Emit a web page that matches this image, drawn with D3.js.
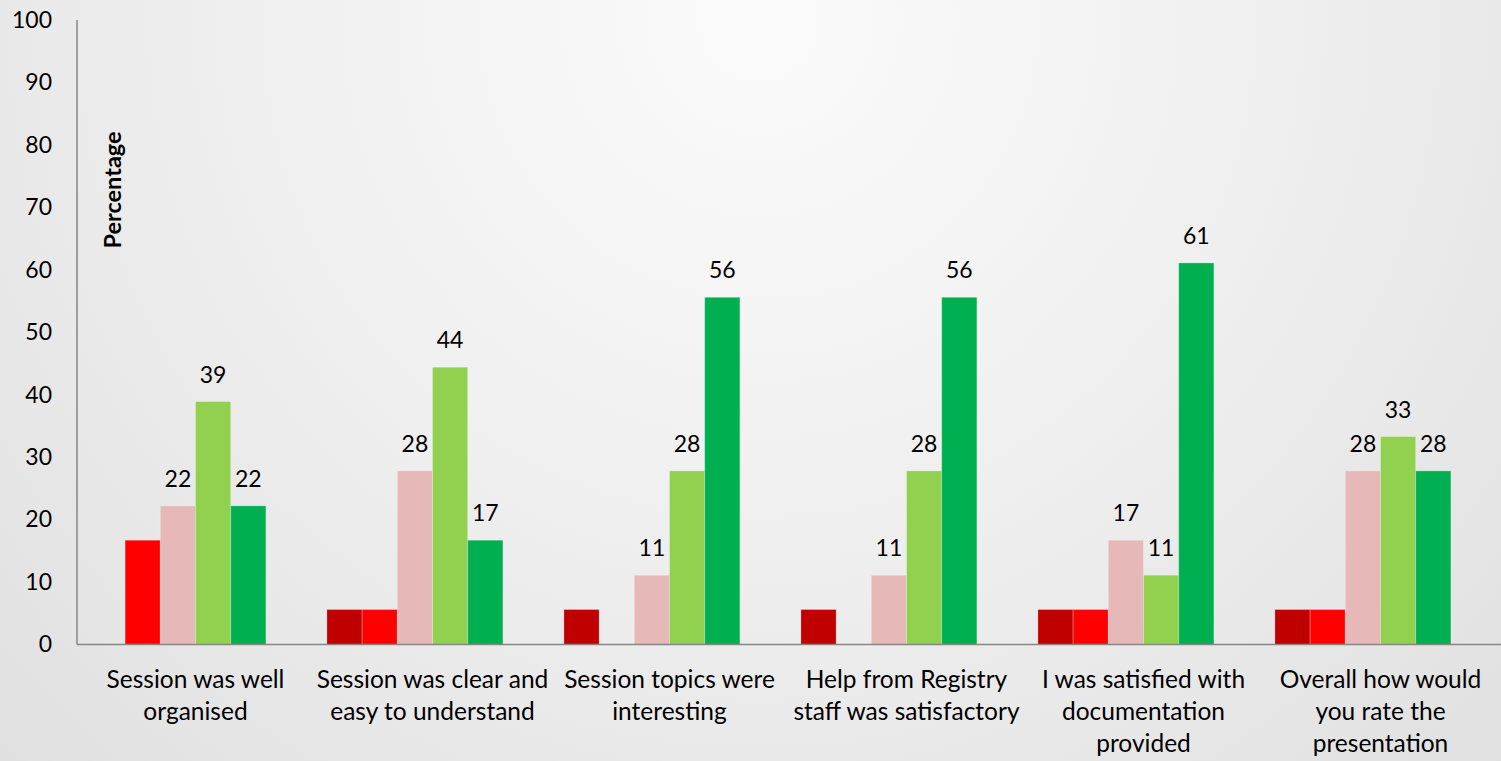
<!DOCTYPE html>
<html>
<head>
<meta charset="utf-8">
<script src="https://cdn.jsdelivr.net/npm/d3@7"></script>
<style>
html,body{margin:0;padding:0;overflow:hidden;background:#eee;}
svg{display:block;}
text{font-family:Lato,"Open Sans",sans-serif;fill:#000;}
</style>
</head>
<body>
<svg id="chart" width="1501" height="761"></svg>
<script>
// ---- data ----
const categories = [
  ["Session was well", "organised"],
  ["Session was clear and", "easy to understand"],
  ["Session topics were", "interesting"],
  ["Help from Registry", "staff was satisfactory"],
  ["I was satisfied with", "documentation", "provided"],
  ["Overall how would", "you rate the", "presentation"]
];
const seriesNames = ["Very poor", "Poor", "Average", "Good", "Excellent", "N/A"];
const seriesColors = ["#C00000", "#FF0000", "#E6B9B8", "#92D050", "#00B050", "#7F7F7F"];
const veryPoor  = [0, 5.6, 5.6, 5.6, 5.6, 5.6];
const poor      = [16.7, 5.6, 0, 0, 5.6, 5.6];
const average   = [22.2, 27.8, 11.1, 11.1, 16.7, 27.8];
const good      = [38.9, 44.4, 27.8, 27.8, 11.1, 33.3];
const excellent = [22.2, 16.7, 55.6, 55.6, 61.1, 27.8];
const notApplicable = [0, 0, 0, 0, 0, 0];
const labelledSeries = ["Average", "Good", "Excellent"];
const yTicks = [0, 10, 20, 30, 40, 50, 60, 70, 80, 90, 100];
const yTitle = "Percentage";

const seriesValues = [veryPoor, poor, average, good, excellent, notApplicable];

// ---- layout ----
const W = 1501, H = 761;
const mLeft = 77, mRight = 1499, mTop = 20, mBottom = 644.5;
const svg = d3.select("#chart");

// background radial gradient
const defs = svg.append("defs");
const rg = defs.append("radialGradient").attr("id", "bg")
  .attr("gradientUnits", "userSpaceOnUse")
  .attr("cx", 759).attr("cy", 20).attr("r", 1070);
[[0, "#fbfbfb"], [0.12, "#f8f8f8"], [0.45, "#f0f0f0"], [1, "#e0e0e0"]]
  .forEach(([o, c]) => rg.append("stop").attr("offset", o).attr("stop-color", c));
svg.append("rect").attr("width", W).attr("height", H).attr("fill", "url(#bg)");

const y = d3.scaleLinear().domain([0, 100]).range([mBottom, mTop]);
const x0 = d3.scaleBand().domain(d3.range(categories.length)).range([mLeft, mRight]).padding(0);
const x1 = d3.scaleBand().domain(seriesNames).range([0, x0.bandwidth()])
  .paddingInner(0).paddingOuter(0.367);

// bars
const rows = [];
categories.forEach((c, i) => seriesNames.forEach((s, j) => rows.push({ci: i, s, j, v: seriesValues[j][i]})));

svg.append("g").selectAll("rect").data(rows.filter(d => d.v > 0)).join("rect")
  .attr("x", d => x0(d.ci) + x1(d.s))
  .attr("y", d => y(d.v))
  .attr("width", x1.bandwidth())
  .attr("height", d => y(0) - y(d.v))
  .attr("fill", d => seriesColors[d.j])
  .attr("stroke", "rgba(255,255,255,0.25)")
  .attr("stroke-width", 1);

// data labels
svg.append("g").selectAll("text").data(rows.filter(d => d.v > 0 && labelledSeries.includes(d.s))).join("text")
  .attr("x", d => x0(d.ci) + x1(d.s) + x1.bandwidth() / 2)
  .attr("y", d => y(d.v) - 19)
  .attr("text-anchor", "middle")
  .style("font-size", "23px")
  .text(d => d3.format(".0f")(d.v));

// y axis (labels only, no ticks)
const yAxis = d3.axisLeft(y).tickValues(yTicks).tickSize(0).tickPadding(25);
const gy = svg.append("g").attr("transform", `translate(${mLeft},0)`).call(yAxis);
gy.select(".domain").remove();
gy.selectAll("text").style("font-size", "23px").style("font-family", "Lato, sans-serif").attr("fill", "#000");

// axis lines
svg.append("line").attr("x1", mLeft).attr("x2", mLeft).attr("y1", mTop).attr("y2", mBottom)
  .attr("stroke", "#868686").attr("stroke-width", 1.5);
svg.append("line").attr("x1", mLeft).attr("x2", W).attr("y1", mBottom).attr("y2", mBottom)
  .attr("stroke", "#868686").attr("stroke-width", 1.5);

// category labels
const cl = svg.append("g").selectAll("text").data(categories).join("text")
  .attr("text-anchor", "middle")
  .style("font-size", "24.5px");
cl.each(function(lines, i) {
  const t = d3.select(this);
  lines.forEach((ln, k) => t.append("tspan")
    .attr("x", x0(i) + x0.bandwidth() / 2)
    .attr("y", 688 + k * 32)
    .text(ln));
});

// y title
svg.append("text")
  .attr("transform", "translate(121,190) rotate(-90)")
  .attr("text-anchor", "middle")
  .style("font-size", "23.5px").style("font-weight", "bold")
  .text(yTitle);
</script>
</body>
</html>
